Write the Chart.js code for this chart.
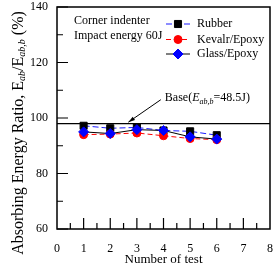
<!DOCTYPE html>
<html><head><meta charset="utf-8">
<script src="https://cdn.jsdelivr.net/npm/chart.js@4"></script>
<style>html,body{margin:0;padding:0;background:#fff;}#wrap{width:276px;height:269px;}</style>
</head><body><div id="wrap"><canvas id="c" width="276" height="269"></canvas></div>
<script>
const tests = [1, 2, 3, 4, 5, 6];
const rubber = [97.2, 96.3, 96.6, 95.5, 95.2, 93.8];
const kevlar = [94.0, 94.2, 94.6, 93.6, 92.6, 92.2];
const glass = [95.0, 94.4, 95.8, 95.5, 93.2, 92.4];
const baseValue = 98;
const baseX = [0, 8];
const seriesNames = ['Rubber', 'Kevalr/Epoxy', 'Glass/Epoxy'];
const yTicks = [60, 80, 100, 120, 140];
const xTicks = [0, 1, 2, 3, 4, 5, 6, 7, 8];

const SERIF = '"Liberation Serif", "Times New Roman", serif';
const toPts = (ys) => tests.map((x, i) => ({x, y: ys[i]}));

const overlay = {
  id: 'overlay',
  afterDraw(chart) {
    const ctx = chart.ctx, a = chart.chartArea;
    const xs = chart.scales.x, ys = chart.scales.y;
    ctx.save();
    ctx.strokeStyle = '#000';
    ctx.lineWidth = 1.5;
    ctx.strokeRect(a.left, a.top, a.right - a.left, a.bottom - a.top);
    ctx.lineWidth = 1.2;
    ctx.beginPath();
    for (let v = 60; v <= 140; v += 10) {
      const p = ys.getPixelForValue(v);
      const len = (v % 20 === 0) ? 11 : 6;
      ctx.moveTo(a.left, p); ctx.lineTo(a.left + len, p);
    }
    for (let v = 0.5; v < 8; v += 0.5) {
      const p = xs.getPixelForValue(v);
      const len = (v % 1 === 0) ? 11 : 6;
      ctx.moveTo(p, a.bottom); ctx.lineTo(p, a.bottom - len);
    }
    ctx.stroke();

    // y title with subscripts
    const segs = [
      ['Absorbing Energy Ratio, E', '16px ' + SERIF, 0],
      ['ab', 'italic 10px ' + SERIF, 3.5],
      ['/E', '16px ' + SERIF, 0],
      ['ab,b', 'italic 10px ' + SERIF, 3.5],
      [' (%)', '16px ' + SERIF, 0]
    ];
    let total = 0;
    segs.forEach(s => { ctx.font = s[1]; total += ctx.measureText(s[0]).width; });
    ctx.translate(19, 133);
    ctx.rotate(-Math.PI / 2);
    ctx.fillStyle = '#000';
    ctx.textBaseline = 'middle';
    let cx = -total / 2;
    segs.forEach(s => { ctx.font = s[1]; ctx.fillText(s[0], cx, s[2]); cx += ctx.measureText(s[0]).width; });
    ctx.setTransform(1, 0, 0, 1, 0, 0);

    // x title
    ctx.font = '13px ' + SERIF;
    ctx.textAlign = 'center';
    ctx.textBaseline = 'middle';
    ctx.fillText('Number of test', (a.left + a.right) / 2, 260);

    // notes
    ctx.textAlign = 'left';
    ctx.font = '12px ' + SERIF;
    ctx.fillText('Corner indenter', a.left + 17, 21);
    ctx.fillText('Impact energy 60J', a.left + 17, 36);

    // legend
    const ds = chart.data.datasets;
    const rows = [24, 39.5, 54];
    for (let i = 0; i < 3; i++) {
      const d = ds[i];
      const y = rows[i];
      ctx.save();
      ctx.strokeStyle = d.borderColor;
      ctx.lineWidth = 1;
      ctx.setLineDash(d.borderDash || []);
      ctx.beginPath(); ctx.moveTo(166, y); ctx.lineTo(190, y); ctx.stroke();
      ctx.restore();
      ctx.fillStyle = d.pointBackgroundColor;
      ctx.strokeStyle = d.pointBorderColor;
      ctx.lineWidth = 1;
      ctx.beginPath();
      if (d.pointStyle === 'rect') { const s = d.pointRadius * Math.SQRT1_2; ctx.rect(178 - s, y - s, 2 * s, 2 * s); }
      else if (d.pointStyle === 'circle') { ctx.arc(178, y, d.pointRadius, 0, Math.PI * 2); }
      else { const r = d.pointRadius; ctx.moveTo(178, y - r); ctx.lineTo(178 + r, y); ctx.lineTo(178, y + r); ctx.lineTo(178 - r, y); ctx.closePath(); }
      ctx.fill(); ctx.stroke();
      ctx.fillStyle = '#000';
      ctx.font = '12px ' + SERIF;
      ctx.textBaseline = 'middle';
      ctx.fillText(seriesNames[i], 197, y);
    }

    // base annotation
    const tx = xs.getPixelForValue(4.05), ty = ys.getPixelForValue(107.3);
    let px = tx;
    const parts = [['Base(', '12px ' + SERIF, 0], ['E', 'italic 12px ' + SERIF, 0], ['ab,b', 'italic 8px ' + SERIF, 4], ['=48.5J)', '12px ' + SERIF, 0]];
    parts.forEach(p => { ctx.font = p[1]; ctx.fillText(p[0], px, ty + p[2]); px += ctx.measureText(p[0]).width; });
    const x1 = xs.getPixelForValue(3.9), y1 = ys.getPixelForValue(106.6);
    const x2 = xs.getPixelForValue(2.68), y2 = ys.getPixelForValue(98.5);
    ctx.strokeStyle = '#000'; ctx.lineWidth = 1;
    ctx.beginPath(); ctx.moveTo(x1, y1); ctx.lineTo(x2, y2); ctx.stroke();
    const ang = Math.atan2(y2 - y1, x2 - x1);
    ctx.beginPath();
    ctx.moveTo(x2, y2);
    ctx.lineTo(x2 - 7 * Math.cos(ang - 0.3), y2 - 7 * Math.sin(ang - 0.3));
    ctx.lineTo(x2 - 7 * Math.cos(ang + 0.3), y2 - 7 * Math.sin(ang + 0.3));
    ctx.closePath(); ctx.fillStyle = '#000'; ctx.fill();
    ctx.restore();
  }
};

new Chart(document.getElementById('c'), {
  type: 'scatter',
  data: {
    datasets: [
      {label: seriesNames[0], data: toPts(rubber), showLine: true, borderColor: '#1a1aff', borderWidth: 1, borderDash: [6, 3],
       pointStyle: 'rect', pointRadius: 5, pointBackgroundColor: '#000', pointBorderColor: '#000', pointBorderWidth: 1, order: 3},
      {label: seriesNames[1], data: toPts(kevlar), showLine: true, borderColor: '#ff0000', borderWidth: 1, borderDash: [5, 3],
       pointStyle: 'circle', pointRadius: 4, pointBackgroundColor: '#ff0000', pointBorderColor: '#ff0000', pointBorderWidth: 1, order: 2},
      {label: seriesNames[2], data: toPts(glass), showLine: true, borderColor: '#000', borderWidth: 1,
       pointStyle: 'rectRot', pointRadius: 5, pointBackgroundColor: '#0000ff', pointBorderColor: '#0000ff', pointBorderWidth: 1, order: 1},
      {label: 'Base', data: baseX.map(x => ({x, y: baseValue})), showLine: true, borderColor: '#000', borderWidth: 1.2,
       pointRadius: 0, order: 4}
    ]
  },
  options: {
    responsive: false, animation: false, devicePixelRatio: 1,
    layout: {padding: {top: 7, right: 3, left: 0, bottom: 0}},
    plugins: {legend: {display: false}, tooltip: {enabled: false}},
    scales: {
      x: {type: 'linear', min: 0, max: 8,
          afterBuildTicks: s => { s.ticks = xTicks.map(v => ({value: v})); },
          afterFit: s => { s.height = 40; s.paddingLeft = 0; s.paddingRight = 0; },
          grid: {display: false, drawTicks: false}, border: {display: false},
          ticks: {padding: 13, color: '#000', font: {family: SERIF, size: 12}, maxRotation: 0}},
      y: {min: 60, max: 140,
          afterBuildTicks: s => { s.ticks = yTicks.map(v => ({value: v})); },
          afterFit: s => { s.width = 57; s.paddingTop = 0; s.paddingBottom = 0; },
          grid: {display: false, drawTicks: false}, border: {display: false},
          ticks: {padding: 9, color: '#000', font: {family: SERIF, size: 12}}}
    }
  },
  plugins: [overlay]
});
</script></body></html>
